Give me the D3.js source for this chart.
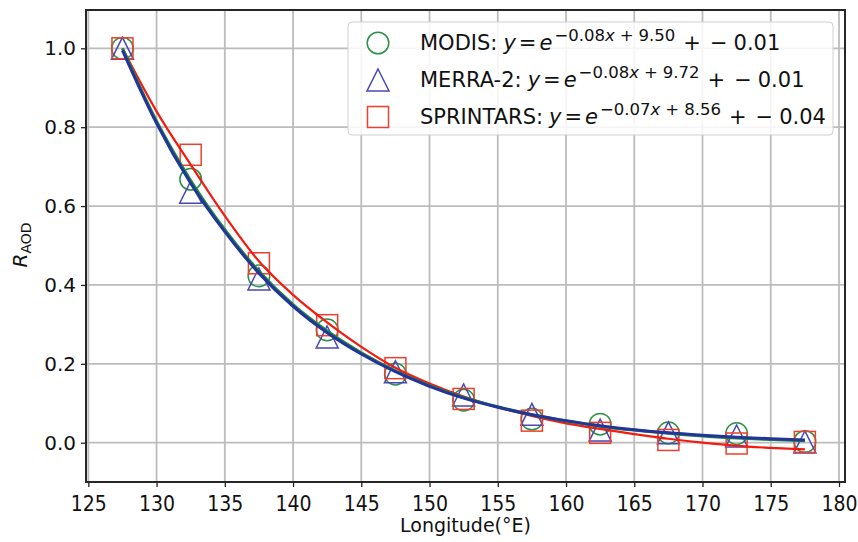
<!DOCTYPE html>
<html>
<head>
<meta charset="utf-8">
<script src="https://cdn.jsdelivr.net/npm/d3@7"></script>
<style>
  body { margin: 0; background: #fff; }
  svg text { font-family: "DejaVu Sans", sans-serif; fill: #111; }
</style>
</head>
<body>
<svg id="chart"></svg>
<script>
// Размеры картинки
const width = 858;
const height = 542;
const margin = { top: 10, right: 13, bottom: 60, left: 86 };

// Наблюдения по долготе
const obsX = [127.5, 132.5, 137.5, 142.5, 147.5, 152.5, 157.5, 162.5, 167.5, 172.5, 177.5];
const modisObs = [1.0, 0.668, 0.423, 0.286, 0.174, 0.108, 0.06, 0.047, 0.025, 0.023, 0.003];
const merraObs = [1.0, 0.635, 0.415, 0.268, 0.18, 0.121, 0.072, 0.032, 0.025, 0.017, 0.002];
const sprintarsObs = [1.0, 0.73, 0.455, 0.298, 0.189, 0.111, 0.056, 0.025, 0.007, -0.002, 0.002];

// Кривые аппроксимации
const fitX = [127.5, 130, 132.5, 135, 137.5, 140, 142.5, 145, 147.5, 150, 152.5, 155, 157.5, 160, 162.5, 165, 167.5, 170, 172.5, 175, 177.5];
const modisFit = [1.0, 0.815, 0.665, 0.54, 0.435, 0.35, 0.283, 0.228, 0.182, 0.145, 0.115, 0.091, 0.071, 0.055, 0.042, 0.032, 0.024, 0.017, 0.012, 0.008, 0.005];
const merraFit = [0.995, 0.81, 0.658, 0.535, 0.43, 0.346, 0.279, 0.225, 0.18, 0.143, 0.113, 0.09, 0.071, 0.056, 0.043, 0.033, 0.025, 0.019, 0.014, 0.01, 0.007];
const sprintarsFit = [1.0, 0.84, 0.705, 0.575, 0.46, 0.375, 0.305, 0.243, 0.19, 0.15, 0.117, 0.09, 0.068, 0.049, 0.035, 0.022, 0.01, 0.0, -0.008, -0.013, -0.017];

const xTicks = [125, 130, 135, 140, 145, 150, 155, 160, 165, 170, 175, 180];
const yTicks = [0.0, 0.2, 0.4, 0.6, 0.8, 1.0];

const legendNames = ["MODIS", "MERRA-2", "SPRINTARS"];
const legendSlope = ["\u22120.08", "\u22120.08", "\u22120.07"];
const legendIcpt = ["9.50", "9.72", "8.56"];
const legendOffset = ["0.01", "0.01", "0.04"];

const svg = d3.select("#chart").attr("width", width).attr("height", height);

const x = d3.scaleLinear().domain([124.83, 180.44]).range([margin.left, width - margin.right]);
const y = d3.scaleLinear().domain([-0.0996, 1.0971]).range([height - margin.bottom, margin.top]);

// сетка
svg.append("g")
    .selectAll("line")
    .data(xTicks)
    .join("line")
    .attr("x1", d => x(d)).attr("x2", d => x(d))
    .attr("y1", margin.top).attr("y2", height - margin.bottom)
    .attr("stroke", "#bcbcbc").attr("stroke-width", 1.8);
svg.append("g")
    .selectAll("line")
    .data(yTicks)
    .join("line")
    .attr("y1", d => y(d)).attr("y2", d => y(d))
    .attr("x1", margin.left).attr("x2", width - margin.right)
    .attr("stroke", "#bcbcbc").attr("stroke-width", 1.8);

// оси
const xAxis = svg.append("g")
    .attr("transform", `translate(0,${height - margin.bottom})`)
    .call(d3.axisBottom(x).tickValues(xTicks).tickFormat(d3.format("d")).tickSize(5).tickPadding(8));
const yAxis = svg.append("g")
    .attr("transform", `translate(${margin.left},0)`)
    .call(d3.axisLeft(y).tickValues(yTicks).tickFormat(d3.format(".1f")).tickSize(5).tickPadding(5));
[xAxis, yAxis].forEach(a => {
    a.select(".domain").remove();
    a.selectAll(".tick line").attr("stroke", "#222").attr("stroke-width", 1.3);
    a.selectAll(".tick text").style("font-size", "20px").attr("fill", "#111");
});
// подписи по x в оригинале выше и уже
xAxis.selectAll(".tick text")
    .style("font-size", "22px")
    .attr("transform", "scale(0.86,1)");

// маркеры
const gMarks = svg.append("g");
gMarks.selectAll("circle")
    .data(obsX.map((d, i) => [d, modisObs[i]]))
    .join("circle")
    .attr("cx", d => x(d[0])).attr("cy", d => y(d[1])).attr("r", 10.8)
    .attr("fill", "none").attr("stroke", "#2e9148").attr("stroke-width", 1.5);

function triPath(s) {
    return `M0,${-s / 2}L${s / 2},${s / 2}L${-s / 2},${s / 2}Z`;
}
gMarks.selectAll("path.tri")
    .data(obsX.map((d, i) => [d, merraObs[i]]))
    .join("path")
    .attr("class", "tri")
    .attr("d", triPath(22))
    .attr("transform", d => `translate(${x(d[0])},${y(d[1])})`)
    .attr("fill", "none").attr("stroke", "#4848b4").attr("stroke-width", 1.5);

gMarks.selectAll("rect")
    .data(obsX.map((d, i) => [d, sprintarsObs[i]]))
    .join("rect")
    .attr("x", d => x(d[0]) - 10.5).attr("y", d => y(d[1]) - 10.5)
    .attr("width", 21).attr("height", 21)
    .attr("fill", "none").attr("stroke", "#ef3f2c").attr("stroke-width", 1.5);

// линии аппроксимации
const line = d3.line()
    .x(d => x(d[0]))
    .y(d => y(d[1]))
    .curve(d3.curveMonotoneX);
const fits = [
    { vals: sprintarsFit, color: "#f51a10", w: 2.2 },
    { vals: modisFit, color: "#1e8a3c", w: 3 },
    { vals: merraFit, color: "#22359a", w: 3 }
];
svg.append("g")
    .selectAll("path")
    .data(fits)
    .join("path")
    .attr("d", f => line(fitX.map((d, i) => [d, f.vals[i]])))
    .attr("fill", "none")
    .attr("stroke", f => f.color)
    .attr("stroke-width", f => f.w)
    .attr("stroke-linejoin", "round");

// рамка
svg.append("rect")
    .attr("x", margin.left).attr("y", margin.top)
    .attr("width", width - margin.left - margin.right)
    .attr("height", height - margin.top - margin.bottom)
    .attr("fill", "none").attr("stroke", "#262626").attr("stroke-width", 2);

// легенда
const lg = svg.append("g");
lg.append("rect")
    .attr("x", 348).attr("y", 22).attr("width", 485).attr("height", 113)
    .attr("rx", 4)
    .attr("fill", "#fff").attr("fill-opacity", 0.85)
    .attr("stroke", "#d0d0d0").attr("stroke-width", 1);

const rowY = [43, 80, 117];
lg.append("circle").attr("cx", 378).attr("cy", rowY[0]).attr("r", 10.8)
    .attr("fill", "none").attr("stroke", "#2e9148").attr("stroke-width", 1.5);
lg.append("path").attr("d", triPath(22)).attr("transform", `translate(378,${rowY[1]})`)
    .attr("fill", "none").attr("stroke", "#4848b4").attr("stroke-width", 1.5);
lg.append("rect").attr("x", 378 - 10.5).attr("y", rowY[2] - 10.5).attr("width", 21).attr("height", 21)
    .attr("fill", "none").attr("stroke", "#ef3f2c").attr("stroke-width", 1.5);

legendNames.forEach((name, i) => {
    const t = lg.append("text")
        .attr("x", 420).attr("y", rowY[i] + 7)
        .style("font-size", "21px");
    t.append("tspan").text(name + ":");
    t.append("tspan").attr("dx", 6).style("font-style", "italic").text("y");
    t.append("tspan").attr("dx", 3).text("=");
    t.append("tspan").attr("dx", 3).style("font-style", "italic").text("e");
    // показатель степени
    t.append("tspan").attr("dx", 2).attr("dy", -9).style("font-size", "16.5px").text(legendSlope[i]);
    t.append("tspan").style("font-size", "16.5px").style("font-style", "italic").text("x");
    t.append("tspan").attr("dx", 5).style("font-size", "16.5px").text("+");
    t.append("tspan").attr("dx", 5).style("font-size", "16.5px").text(legendIcpt[i]);
    t.append("tspan").attr("dx", 8).attr("dy", 9).text("+");
    t.append("tspan").attr("dx", 9).text("\u2212");
    t.append("tspan").attr("dx", 6).text(legendOffset[i]);
});

// подписи осей
svg.append("text")
    .attr("x", (margin.left + width - margin.right) / 2)
    .attr("y", 532)
    .attr("text-anchor", "middle")
    .style("font-size", "19px")
    .text("Longitude(°E)");

const yl = svg.append("text")
    .attr("transform", "translate(27,245) rotate(-90)")
    .attr("text-anchor", "middle")
    .style("font-size", "20px");
yl.append("tspan").style("font-style", "italic").text("R");
yl.append("tspan").attr("dy", 4).style("font-size", "14px").text("AOD");
</script>
</body>
</html>
